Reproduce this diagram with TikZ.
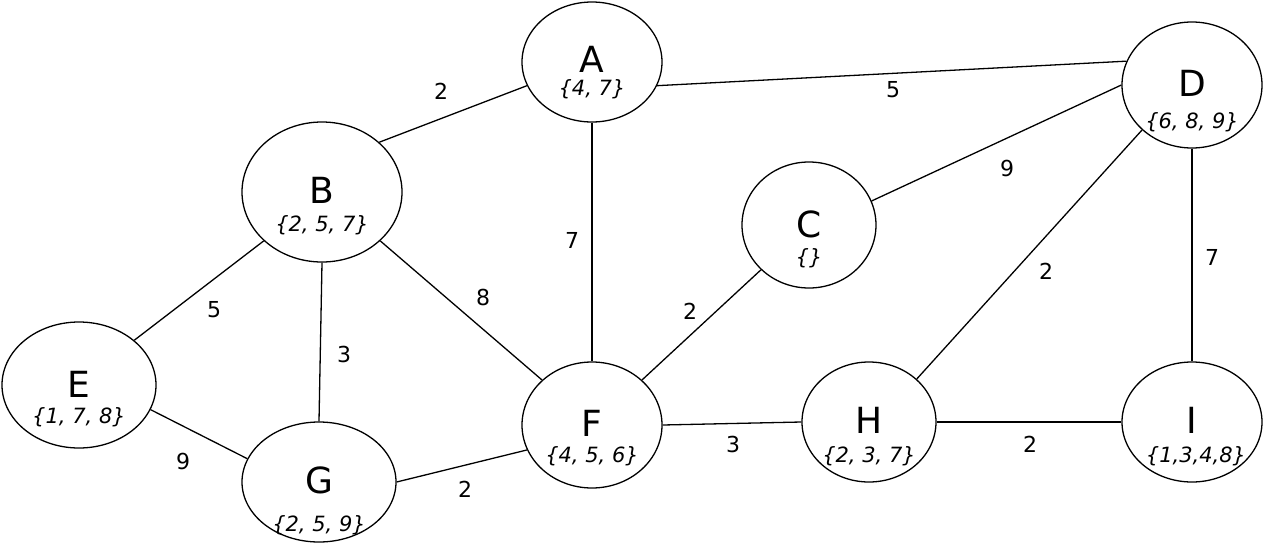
\documentclass[tikz,border=0pt]{standalone}
\usepackage{fontspec}
\setmainfont{DejaVu Sans}
\usetikzlibrary{shapes.geometric}
\begin{document}
\begin{tikzpicture}[x=1pt,y=-1pt,
  vert/.style={draw,ellipse,line width=1.3pt,inner sep=0pt},
  ltr/.style={font=\fontsize{36}{40}\selectfont,inner sep=0pt},
  sub/.style={font=\fontsize{21}{24}\selectfont\itshape,inner sep=0pt},
  wt/.style={font=\fontsize{22}{25}\selectfont,inner sep=0pt},
  edge/.style={line width=1.3pt}]
\useasboundingbox (0,0) rectangle (1264,544);
\node[vert,minimum width=140pt,minimum height=120pt] (A) at (592,62) {};
\node[vert,minimum width=160pt,minimum height=140pt] (B) at (322,192) {};
\node[vert,minimum width=134pt,minimum height=126pt] (C) at (809,225) {};
\node[vert,minimum width=140pt,minimum height=126pt] (D) at (1192,85) {};
\node[vert,minimum width=154pt,minimum height=126pt] (E) at (79,385) {};
\node[vert,minimum width=140pt,minimum height=126pt] (F) at (592,425) {};
\node[vert,minimum width=154pt,minimum height=120pt] (G) at (319,482) {};
\node[vert,minimum width=134pt,minimum height=120pt] (H) at (869,422) {};
\node[vert,minimum width=140pt,minimum height=120pt] (I) at (1192,422) {};
\node[ltr] (Al) at (592,59) {A};
\node[sub] (As) at (592,89) {\{4, 7\}};
\node[ltr] (Bl) at (322,190) {B};
\node[sub] (Bs) at (322,225) {\{2, 5, 7\}};
\node[ltr] (Cl) at (809,224) {C};
\node[sub] (Cs) at (809,258) {\{\}};
\node[ltr] (Dl) at (1192,83) {D};
\node[sub] (Ds) at (1192,122) {\{6, 8, 9\}};
\node[ltr] (El) at (79,384) {E};
\node[sub] (Es) at (79,417) {\{1, 7, 8\}};
\node[ltr] (Fl) at (592,423) {F};
\node[sub] (Fs) at (592,456) {\{4, 5, 6\}};
\node[ltr] (Gl) at (319,480) {G};
\node[sub] (Gs) at (319,525) {\{2, 5, 9\}};
\node[ltr] (Hl) at (869,420) {H};
\node[sub] (Hs) at (869,456) {\{2, 3, 7\}};
\node[ltr] (Il) at (1192,420) {I};
\node[sub] (Is) at (1196,456) {\{1,3,4,8\}};
\draw[edge] (B.41.8) -- (A.200);
\draw[edge] (A.-20) -- (D.160);
\draw[edge] (A.south) -- (F.north);
\draw[edge] (B.220.7) -- (E.39);
\draw[edge] (B.south) -- (G.north);
\draw[edge] (B.-40.7) -- (F.138.6);
\draw[edge] (E.-19.4) -- (G.162);
\draw[edge] (G.east) -- (F.201);
\draw[edge] (F.42) -- (C.223);
\draw[edge] (F.east) -- (H.west);
\draw[edge] (C.21) -- (D.west);
\draw[edge] (H.42) -- (D.222);
\draw[edge] (D.south) -- (I.north);
\draw[edge] (H.east) -- (I.west);
\node[wt] (w1) at (441,91) {2};
\node[wt] (w2) at (893,90) {5};
\node[wt] (w3) at (572,240) {7};
\node[wt] (w4) at (214,310) {5};
\node[wt] (w5) at (344,354) {3};
\node[wt] (w6) at (483,297) {8};
\node[wt] (w7) at (183,461) {9};
\node[wt] (w8) at (465,489) {2};
\node[wt] (w9) at (690,311) {2};
\node[wt] (w10) at (733,444) {3};
\node[wt] (w11) at (1007,168) {9};
\node[wt] (w12) at (1046,271) {2};
\node[wt] (w13) at (1212,257) {7};
\node[wt] (w14) at (1030,444) {2};
\end{tikzpicture}
\end{document}
